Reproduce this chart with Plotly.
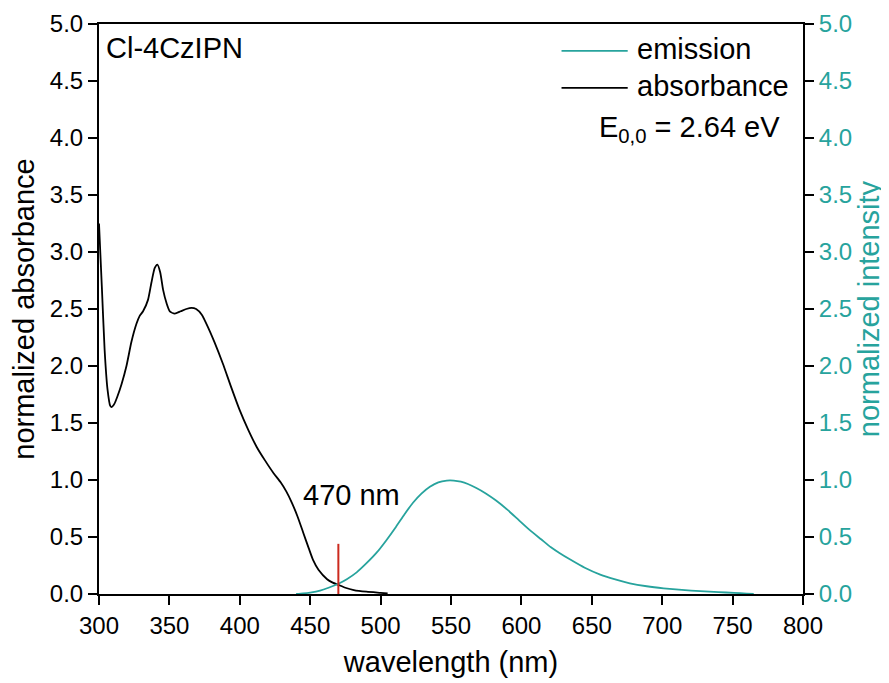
import plotly.graph_objects as go

# ---- data ----
abs_wavelength = [300, 302, 304, 306, 308, 309, 311, 313, 316, 319.5, 323, 326.6, 328.9, 331.3,
                  334.8, 337.2, 339.6, 341.5, 343.5, 345.5, 348, 350.3, 353.8, 358, 362,
                  365.7, 369, 373, 376.3, 382, 388, 394, 400, 406, 412, 418, 424, 429, 433,
                  437, 441, 445, 449, 452, 456, 462, 466, 470, 475, 481, 490, 500, 505]
abs_values = [3.25, 2.7, 2.14, 1.8, 1.65, 1.64, 1.67, 1.73, 1.84, 2.00, 2.21, 2.37, 2.44, 2.48,
              2.58, 2.73, 2.86, 2.89, 2.82, 2.67, 2.55, 2.48, 2.46, 2.48, 2.50,
              2.51, 2.50, 2.45, 2.37, 2.21, 2.02, 1.81, 1.61, 1.44, 1.29, 1.17, 1.06, 0.98, 0.90,
              0.80, 0.68, 0.54, 0.40, 0.30, 0.21, 0.13, 0.10, 0.08, 0.055, 0.035, 0.02, 0.01, 0.005]

em_wavelength = [440, 445, 450, 457, 463, 470, 476, 483, 490, 497, 504, 511, 517, 523, 529,
                 535, 541, 547, 552, 557, 562, 568, 575, 582, 590, 598, 606, 614, 621, 627,
                 635, 645, 656, 666, 677, 689, 701, 714, 727, 740, 751, 760, 765]
em_values = [0.0, 0.005, 0.013, 0.03, 0.055, 0.09, 0.13, 0.19, 0.27, 0.36, 0.47, 0.59, 0.70,
             0.80, 0.88, 0.94, 0.98, 0.995, 0.995, 0.985, 0.965, 0.93, 0.88, 0.82, 0.74, 0.65,
             0.56, 0.48, 0.41, 0.36, 0.30, 0.23, 0.17, 0.13, 0.094, 0.068, 0.05, 0.036, 0.025,
             0.016, 0.01, 0.004, 0.0]

crossing_nm = 470
crossing_marker_top = 0.44
x_ticks = [300, 350, 400, 450, 500, 550, 600, 650, 700, 750, 800]
y_ticks = [0.0, 0.5, 1.0, 1.5, 2.0, 2.5, 3.0, 3.5, 4.0, 4.5, 5.0]
y_ticklabels = [f"{v:.1f}" for v in y_ticks]

TEAL = "#27A39D"
RED = "#CC2A1E"
FONT = "Liberation Sans, Arial, sans-serif"
TXT = 29

fig = go.Figure()
fig.add_trace(go.Scatter(x=abs_wavelength, y=abs_values, mode="lines",
                         line=dict(color="black", width=1.8, shape="spline", smoothing=0.6),
                         name="absorbance", showlegend=False))
fig.add_trace(go.Scatter(x=em_wavelength, y=em_values, mode="lines",
                         line=dict(color=TEAL, width=1.8, shape="spline", smoothing=0.6),
                         name="emission", yaxis="y2", showlegend=False))

fig.add_shape(type="line", x0=crossing_nm, x1=crossing_nm, y0=0, y1=crossing_marker_top,
              xref="x", yref="y", line=dict(color=RED, width=2))

# manual legend
leg = [("emission", TEAL, 0.953), ("absorbance", "black", 0.888)]
for label, col, yy in leg:
    fig.add_shape(type="line", xref="paper", yref="paper", x0=0.657, x1=0.751, y0=yy, y1=yy,
                  line=dict(color=col, width=1.8))
    fig.add_annotation(text=label, xref="paper", yref="paper", x=0.762, y=yy + 0.003,
                       xanchor="left", yanchor="middle", showarrow=False,
                       font=dict(size=TXT, color="black", family=FONT))

fig.add_annotation(text="E<sub>0,0</sub> = 2.64 eV", xref="paper", yref="paper", x=0.970, y=0.815,
                   xanchor="right", yanchor="middle", showarrow=False,
                   font=dict(size=TXT, color="black", family=FONT))
fig.add_annotation(text="Cl-4CzIPN", xref="paper", yref="paper", x=0.007, y=0.958,
                   xanchor="left", yanchor="middle", showarrow=False,
                   font=dict(size=TXT, color="black", family=FONT))
fig.add_annotation(text="470 nm", xref="x", yref="y", x=479, y=0.87,
                   xanchor="center", yanchor="middle", showarrow=False,
                   font=dict(size=TXT, color="black", family=FONT))

# page body has an 8px margin, so the figure is slightly smaller and margins shifted
fig.update_layout(
    width=881, height=675,
    margin=dict(l=91, r=86, t=16, b=89),
    paper_bgcolor="white", plot_bgcolor="white",
    font=dict(family=FONT, color="black"),
    xaxis=dict(range=[300, 800], tickvals=x_ticks, showgrid=False, zeroline=False,
               showline=True, linecolor="black", linewidth=2, mirror=True, automargin=False,
               ticks="outside", ticklen=9, tickwidth=1.5, tickcolor="black",
               tickfont=dict(size=24, color="black"),
               title=dict(text="wavelength (nm)", font=dict(size=TXT, color="black"), standoff=14)),
    yaxis=dict(range=[0, 5], tickvals=y_ticks, ticktext=y_ticklabels, showgrid=False,
               zeroline=False, showline=True, linecolor="black", linewidth=2, automargin=False,
               ticks="outside", ticklen=9, tickwidth=1.5, tickcolor="black",
               tickfont=dict(size=24, color="black"),
               title=dict(text="normalized absorbance", font=dict(size=TXT, color="black"), standoff=8)),
    yaxis2=dict(range=[0, 5], tickvals=y_ticks, ticktext=y_ticklabels, overlaying="y",
                side="right", showgrid=False, zeroline=False, showline=True, automargin=False,
                linecolor="black", linewidth=2,
                ticks="outside", ticklen=9, tickwidth=1.5, tickcolor="black",
                tickfont=dict(size=24, color=TEAL),
                title=dict(text="normalized intensity", font=dict(size=TXT, color=TEAL), standoff=8)),
)

fig.write_html("out.html")
